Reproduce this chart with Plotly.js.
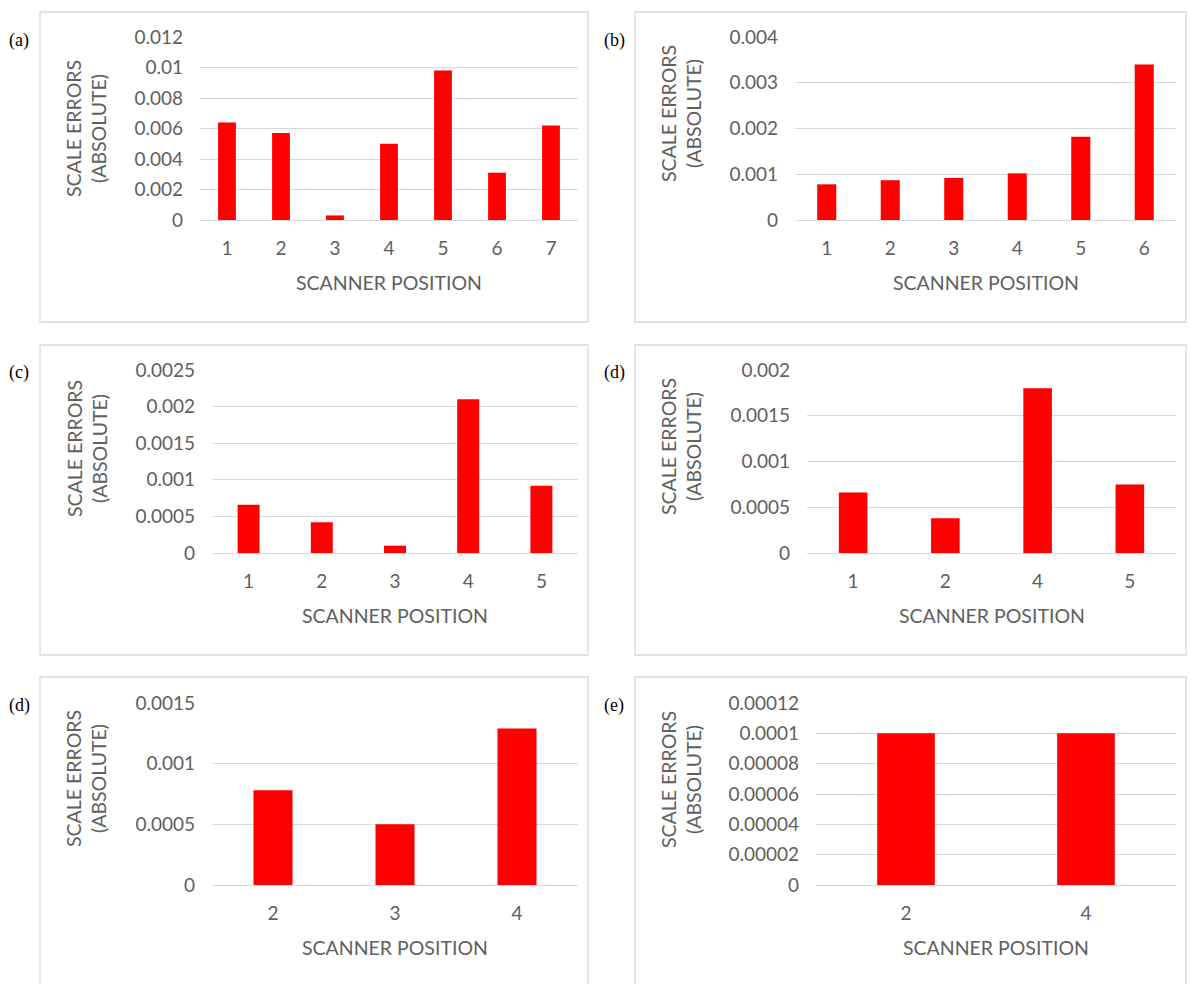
<!DOCTYPE html>
<html>
<head>
<meta charset="utf-8">
<script src="https://cdn.plot.ly/plotly-3.0.1.min.js"></script>
<style>
  html, body { margin: 0; padding: 0; background: #ffffff; }
  #chart { width: 1191px; height: 984px; }
</style>
</head>
<body>
<div id="chart"></div>
<script>
// ---------- DATA ----------
const panelLabels = ["(a)", "(b)", "(c)", "(d)", "(d)", "(e)"];

const positionsA = ["1", "2", "3", "4", "5", "6", "7"];
const errorsA = [0.0064, 0.0057, 0.0003, 0.0050, 0.0098, 0.0031, 0.0062];

const positionsB = ["1", "2", "3", "4", "5", "6"];
const errorsB = [0.00078, 0.00087, 0.00092, 0.00102, 0.00182, 0.0034];

const positionsC = ["1", "2", "3", "4", "5"];
const errorsC = [0.00066, 0.00042, 0.0001, 0.0021, 0.00092];

const positionsD = ["1", "2", "4", "5"];
const errorsD = [0.00066, 0.00038, 0.0018, 0.00075];

const positionsD2 = ["2", "3", "4"];
const errorsD2 = [0.00078, 0.0005, 0.00129];

const positionsE = ["2", "4"];
const errorsE = [0.0001, 0.0001];

const tickValsA = [0, 0.002, 0.004, 0.006, 0.008, 0.01, 0.012];
const tickTextA = ["0", "0.002", "0.004", "0.006", "0.008", "0.01", "0.012"];
const tickValsB = [0, 0.001, 0.002, 0.003, 0.004];
const tickTextB = ["0", "0.001", "0.002", "0.003", "0.004"];
const tickValsC = [0, 0.0005, 0.001, 0.0015, 0.002, 0.0025];
const tickTextC = ["0", "0.0005", "0.001", "0.0015", "0.002", "0.0025"];
const tickValsD = [0, 0.0005, 0.001, 0.0015, 0.002];
const tickTextD = ["0", "0.0005", "0.001", "0.0015", "0.002"];
const tickValsD2 = [0, 0.0005, 0.001, 0.0015];
const tickTextD2 = ["0", "0.0005", "0.001", "0.0015"];
const tickValsE = [0, 0.00002, 0.00004, 0.00006, 0.00008, 0.0001, 0.00012];
const tickTextE = ["0", "0.00002", "0.00004", "0.00006", "0.00008", "0.0001", "0.00012"];

const xTitle = "SCANNER POSITION";
const yTitle = "SCALE ERRORS<br>(ABSOLUTE)";

// ---------- LAYOUT GEOMETRY (pixels) ----------
const W = 1191, H = 984;
const panels = [
  {cats: positionsA, vals: errorsA, tv: tickValsA, tt: tickTextA, plot: [200, 578, 37, 220], box: [40, 588, 12, 322], yt: [86, 129], lab: [19, 40], bw: 0.33},
  {cats: positionsB, vals: errorsB, tv: tickValsB, tt: tickTextB, plot: [795, 1176, 37, 220], box: [635, 1186, 12, 322], yt: [681, 114], lab: [614, 40], bw: 0.30},
  {cats: positionsC, vals: errorsC, tv: tickValsC, tt: tickTextC, plot: [212, 578, 370, 553], box: [40, 588, 345, 655], yt: [87, 449], lab: [19, 372], bw: 0.30},
  {cats: positionsD, vals: errorsD, tv: tickValsD, tt: tickTextD, plot: [807, 1176, 370, 553], box: [635, 1186, 345, 655], yt: [681, 447], lab: [614, 372], bw: 0.31},
  {cats: positionsD2, vals: errorsD2, tv: tickValsD2, tt: tickTextD2, plot: [212, 578, 703, 885], box: [40, 588, 677, 1000], yt: [86, 779], lab: [19, 705], bw: 0.32},
  {cats: positionsE, vals: errorsE, tv: tickValsE, tt: tickTextE, plot: [816, 1176, 703, 885], box: [635, 1186, 677, 1000], yt: [681, 780], lab: [614, 705], bw: 0.32}
];

const grey = "#606060";
const gridCol = "#d9d9d9";
const fontFam = "Lato, 'Open Sans', sans-serif";

const data = [];
const layout = {
  width: W, height: H, autosize: false,
  margin: {l: 0, r: 0, t: 0, b: 0, pad: 0},
  paper_bgcolor: "#ffffff", plot_bgcolor: "#ffffff",
  showlegend: false,
  font: {family: fontFam, color: grey, size: 19},
  shapes: [], annotations: []
};

panels.forEach((p, i) => {
  const n = i + 1;
  const xa = "x" + (n === 1 ? "" : n);
  const ya = "y" + (n === 1 ? "" : n);
  const xk = "xaxis" + (n === 1 ? "" : n);
  const yk = "yaxis" + (n === 1 ? "" : n);
  const [x0, x1, yTop, yZero] = p.plot;
  const maxV = p.tv[p.tv.length - 1];

  data.push({
    type: "bar", x: p.cats, y: p.vals, xaxis: xa, yaxis: ya,
    marker: {color: "#ff0000", line: {width: 0}}, width: p.bw,
    hoverinfo: "x+y"
  });

  layout[xk] = {
    type: "category", domain: [x0 / W, x1 / W], anchor: ya,
    range: [-0.5, p.cats.length - 0.5], fixedrange: true,
    showgrid: false, zeroline: false, showline: false, ticks: "",
    ticklabelstandoff: 15,
    tickfont: {family: fontFam, size: 19, color: grey}
  };
  layout[yk] = {
    domain: [1 - yZero / H, 1 - yTop / H], anchor: xa,
    range: [0, maxV], fixedrange: true,
    tickvals: p.tv, ticktext: p.tt,
    showgrid: true, gridcolor: gridCol, gridwidth: 1,
    zeroline: true, zerolinecolor: gridCol, zerolinewidth: 1,
    showline: false, ticks: "", ticklabelstandoff: 16,
    tickfont: {family: fontFam, size: 19, color: grey}
  };

  // panel frame
  layout.shapes.push({
    type: "rect", xref: "paper", yref: "paper", layer: "below",
    x0: p.box[0] / W, x1: p.box[1] / W, y0: 1 - p.box[3] / H, y1: 1 - p.box[2] / H,
    line: {color: "#d9d9d9", width: 1.3}, fillcolor: "rgba(0,0,0,0)"
  });
  // panel label
  layout.annotations.push({
    xref: "paper", yref: "paper", x: p.lab[0] / W, y: 1 - p.lab[1] / H,
    xanchor: "center", yanchor: "middle", showarrow: false, text: panelLabels[i],
    font: {family: "'Liberation Serif', 'DejaVu Serif', serif", size: 18, color: "#000000"}
  });
  // y title
  layout.annotations.push({
    xref: "paper", yref: "paper", x: p.yt[0] / W, y: 1 - p.yt[1] / H,
    xanchor: "center", yanchor: "middle", showarrow: false, textangle: -90,
    text: yTitle, font: {family: fontFam, size: 19.5, color: grey}
  });
  // x title
  layout.annotations.push({
    xref: "paper", yref: "paper", x: (x0 + x1) / 2 / W, y: 1 - (yZero + 62) / H,
    xanchor: "center", yanchor: "middle", showarrow: false,
    text: xTitle, font: {family: fontFam, size: 19.5, color: grey}
  });
});

Plotly.newPlot("chart", data, layout, {displayModeBar: false, staticPlot: true});
</script>
</body>
</html>
